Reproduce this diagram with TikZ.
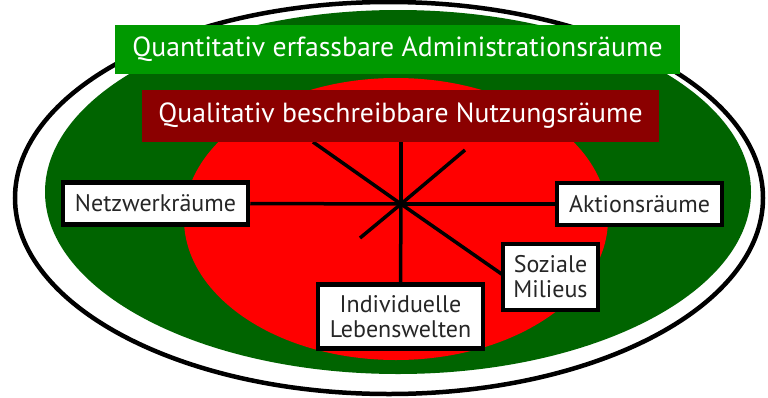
\documentclass[tikz,border=0pt]{standalone}
\usepackage{fontspec}
\setmainfont{PT Sans}
\definecolor{darkgreen}{HTML}{006400}
\definecolor{brightgreen}{HTML}{009900}
\definecolor{darkred}{HTML}{8B0000}
\definecolor{brightred}{HTML}{FF0000}
\pgfdeclarelayer{bg}
\pgfsetlayers{bg,main}
\begin{document}
\begin{tikzpicture}[x=1pt,y=-1pt,
  titlebox/.style={inner sep=0pt, text=white, font=\fontsize{27.7}{30}\selectfont},
  labelbox/.style={draw=black, line width=4.5pt, fill=white, inner sep=0pt, align=center, text=black!85, font=\fontsize{24}{25}\selectfont},
  spoke/.style={line width=3.5pt, black}]
\useasboundingbox (0,0) rectangle (768,397);
% title boxes
\node[titlebox, fill=brightgreen, minimum width=565pt, minimum height=49pt] (quant) at (397.5,49.5) {Quantitativ erfassbare Administrationsräume};
\node[titlebox, fill=darkred, minimum width=517pt, minimum height=52pt] (qual) at (400.5,116) {Qualitativ beschreibbare Nutzungsräume};
% label boxes
\node[labelbox, minimum width=185pt, minimum height=42pt] (netz) at (155.5,203.5) {Netzwerkräume};
\node[labelbox, minimum width=165pt, minimum height=42pt] (akt) at (639.5,204) {Aktionsräume};
\node[labelbox, minimum width=95pt, minimum height=66pt] (soz) at (550.5,277) {Soziale\\Milieus};
\node[labelbox, minimum width=165pt, minimum height=64pt] (ind) at (400.5,316.5) {Individuelle\\Lebenswelten};
% hub and free spoke ends
\coordinate (hub) at (401,204);
\coordinate (ul) at (313,142);
\coordinate (ur) at (465,150);
\coordinate (ll) at (360,238);
\coordinate (up) at (401,142);
\coordinate (lr) at (503,275);
\begin{pgfonlayer}{bg}
% ellipses
\draw[line width=4.5pt, fill=white] (389,198) ellipse [x radius=374, y radius=196];
\fill[darkgreen] (398,192) ellipse [x radius=353, y radius=182];
\fill[brightred] (396,219) ellipse [x radius=212, y radius=141];
% spokes
\draw[spoke] (hub) -- (up);
\draw[spoke] (hub) -- (ul);
\draw[spoke] (hub) -- (ur);
\draw[spoke] (hub) -- (ll);
\draw[spoke] (hub) -- (netz.east);
\draw[spoke] (hub) -- (akt.west);
\draw[spoke] (hub) -- (ind.north);
\draw[spoke] (hub) -- (lr);
\end{pgfonlayer}
\end{tikzpicture}
\end{document}
